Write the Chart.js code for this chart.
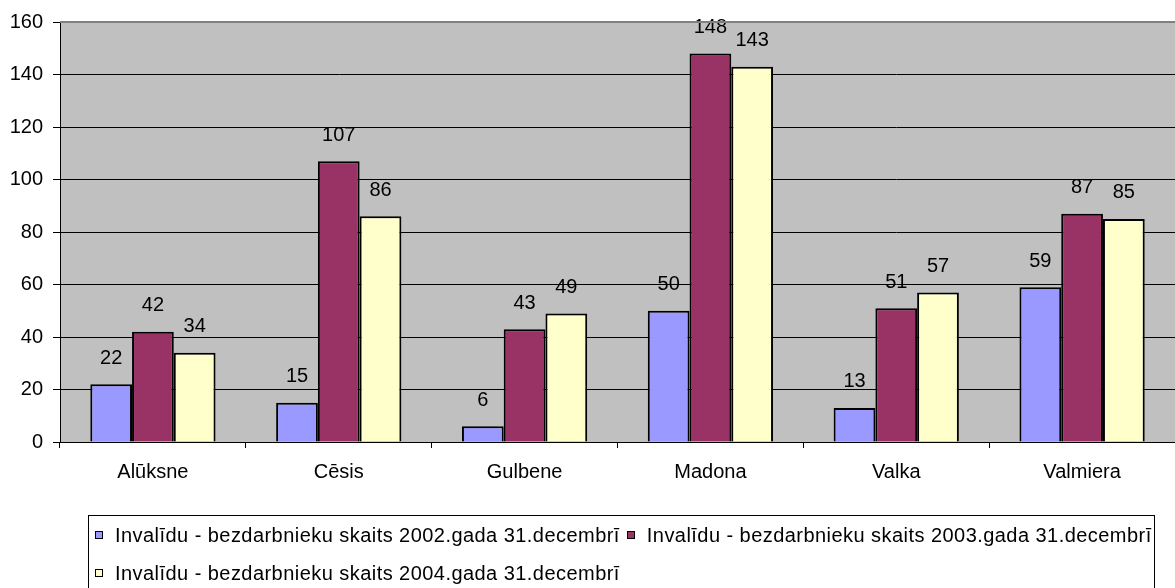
<!DOCTYPE html>
<html><head><meta charset="utf-8">
<script src="https://cdn.jsdelivr.net/npm/chart.js@4/dist/chart.umd.min.js"></script>
<style>
html,body{margin:0;padding:0;background:#fff;}
#wrap{position:relative;width:1175px;height:588px;overflow:hidden;}
#legend{position:absolute;left:88px;top:515px;width:1067px;height:100px;border:1px solid #000;box-sizing:border-box;font:20px 'Liberation Sans',Arial,sans-serif;color:#000;padding:0 0 0 6px;}
.row{height:38px;white-space:nowrap;display:flex;align-items:center;}
.item{display:inline-flex;align-items:center;margin-right:7px;letter-spacing:0.45px;}
.sw{width:6px;height:6px;border:1.5px solid #000;margin-right:12px;flex:none;}
</style>
</head><body>
<div id="wrap">
<canvas id="c" width="1175" height="588"></canvas>
<div id="legend"></div>
</div>
<script>
const categories = ['Alūksne', 'Cēsis', 'Gulbene', 'Madona', 'Valka', 'Valmiera'];
const seriesNames = [
  'Invalīdu - bezdarbnieku skaits 2002.gada 31.decembrī',
  'Invalīdu - bezdarbnieku skaits 2003.gada 31.decembrī',
  'Invalīdu - bezdarbnieku skaits 2004.gada 31.decembrī'
];
const values2002 = [22, 15, 6, 50, 13, 59];
const values2003 = [42, 107, 43, 148, 51, 87];
const values2004 = [34, 86, 49, 143, 57, 85];
const seriesColors = ['#9999FF', '#993366', '#FFFFCC'];
const yTicks = [0, 20, 40, 60, 80, 100, 120, 140, 160];

const FONT = "'Liberation Sans', Arial, sans-serif";
const seriesValues = [values2002, values2003, values2004];

const bgPlugin = {
  id: 'bg',
  beforeDraw(chart) {
    const {ctx, chartArea: a} = chart;
    ctx.save();
    ctx.fillStyle = '#C0C0C0';
    ctx.fillRect(a.left, a.top, a.right - a.left, a.bottom - a.top);
    ctx.restore();
  },
  afterDraw(chart) {
    const {ctx, chartArea: a} = chart;
    ctx.save();
    ctx.strokeStyle = '#808080';
    ctx.lineWidth = 2;
    ctx.beginPath();
    ctx.moveTo(a.left, a.top);
    ctx.lineTo(a.right, a.top);
    ctx.stroke();
    ctx.restore();
  }
};

const labelPlugin = {
  id: 'vals',
  afterDatasetsDraw(chart) {
    const ctx = chart.ctx;
    ctx.save();
    ctx.font = '20px ' + FONT;
    ctx.fillStyle = '#000';
    ctx.textAlign = 'center';
    ctx.textBaseline = 'middle';
    chart.data.datasets.forEach((ds, i) => {
      chart.getDatasetMeta(i).data.forEach((bar, j) => {
        ctx.fillText(String(ds.data[j]), bar.x, bar.y - 26);
      });
    });
    ctx.restore();
  }
};

new Chart(document.getElementById('c'), {
  type: 'bar',
  data: {
    labels: categories,
    datasets: seriesValues.map((v, i) => ({
      label: seriesNames[i],
      data: v,
      backgroundColor: seriesColors[i],
      borderColor: '#000',
      borderWidth: 2,
      categoryPercentage: 0.674,
      barPercentage: 1.0
    }))
  },
  options: {
    responsive: false,
    animation: false,
    devicePixelRatio: 1,
    layout: {padding: {top: 21, right: 0, left: 0, bottom: 0}},
    plugins: {legend: {display: false}, tooltip: {enabled: false}},
    scales: {
      x: {
        grid: {offset: true, drawOnChartArea: false, color: '#000', tickLength: 6, lineWidth: 1},
        border: {color: '#000', width: 1},
        ticks: {color: '#000', font: {family: FONT, size: 20}, padding: 12, maxRotation: 0},
        afterFit(s) { s.height = 146; }
      },
      y: {
        min: 0, max: 160,
        afterBuildTicks(s) { s.ticks = yTicks.map(v => ({value: v})); },
        grid: {color: '#000', tickLength: 7, lineWidth: 1},
        border: {color: '#000', width: 1},
        ticks: {color: '#000', font: {family: FONT, size: 20}, padding: 10},
        afterFit(s) { s.width = 60; }
      }
    }
  },
  plugins: [bgPlugin, labelPlugin]
});

// HTML legend
const legend = document.getElementById('legend');
const rows = [[0, 1], [2]];
rows.forEach(r => {
  const row = document.createElement('div');
  row.className = 'row';
  r.forEach(i => {
    const it = document.createElement('span');
    it.className = 'item';
    const sw = document.createElement('span');
    sw.className = 'sw';
    sw.style.background = seriesColors[i];
    const tx = document.createElement('span');
    tx.textContent = seriesNames[i];
    it.appendChild(sw);
    it.appendChild(tx);
    row.appendChild(it);
  });
  legend.appendChild(row);
});
</script>
</body></html>
